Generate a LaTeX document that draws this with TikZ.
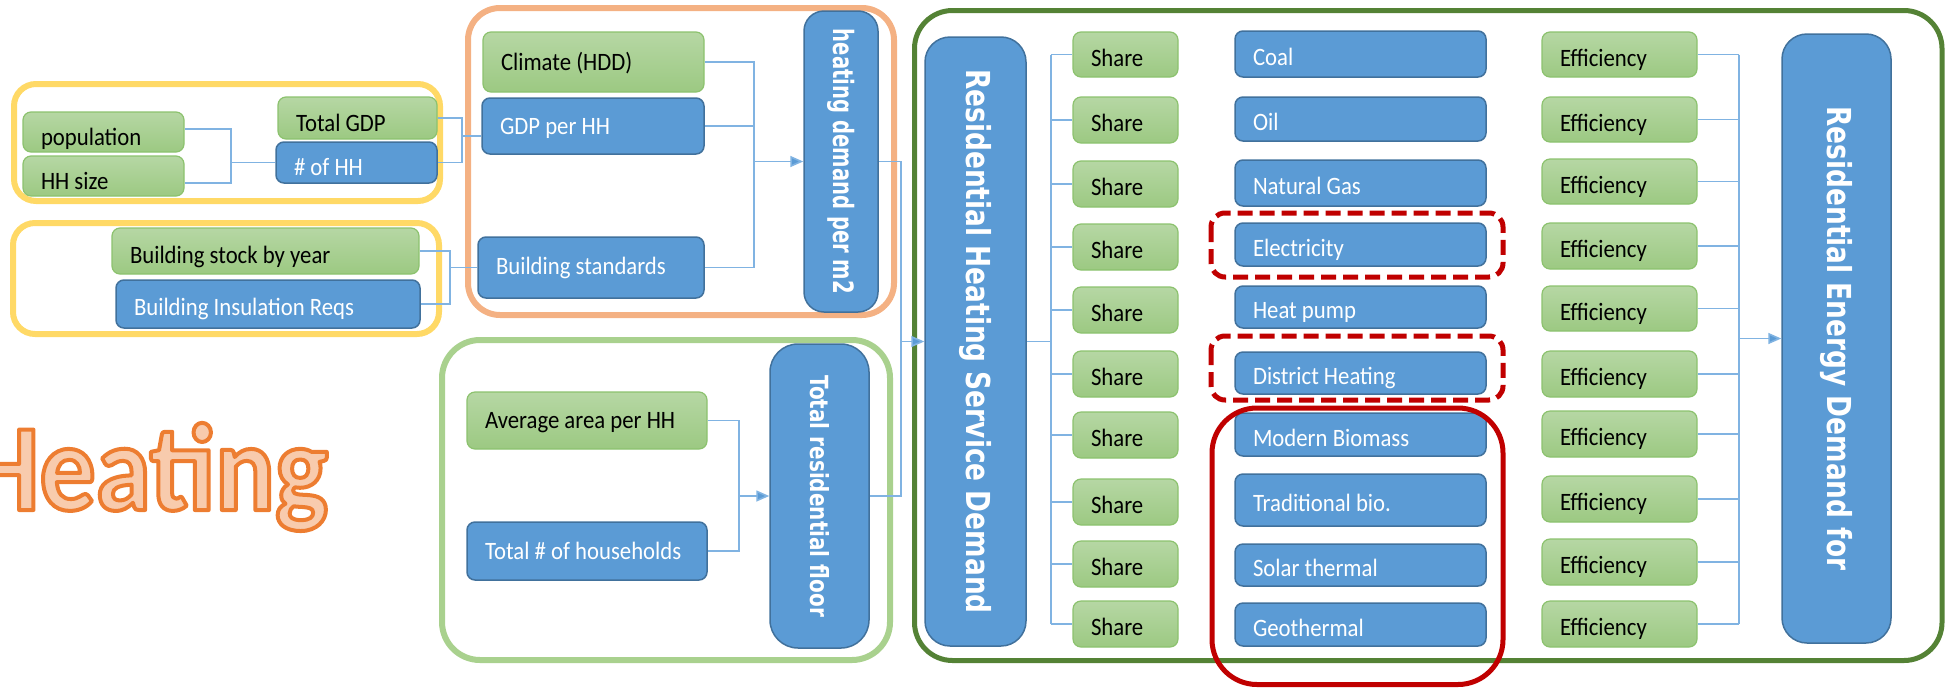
\documentclass[tikz,border=0pt]{standalone}
\usepackage{fontspec}
\setmainfont{Carlito}
\newfontfamily\boxfont[FakeStretch=0.91]{Carlito}
\newfontfamily\vfontA[FakeStretch=0.8]{DejaVu Sans Bold}
\newfontfamily\vfontB[FakeStretch=0.7]{DejaVu Sans Bold}
\newfontfamily\bigfont[FakeStretch=0.9]{Carlito Bold}
\usetikzlibrary{arrows.meta,calc}
\definecolor{gtop}{HTML}{B6D7A4}
\definecolor{gbot}{HTML}{9CC982}
\definecolor{gborder}{HTML}{8CC26E}
\definecolor{bfill}{HTML}{5B9BD5}
\definecolor{bborder}{HTML}{41719C}
\definecolor{lineblue}{HTML}{80B3E2}
\definecolor{arrblue}{HTML}{5B9BD5}
\definecolor{yel}{HTML}{FFD966}
\definecolor{org}{HTML}{F4B183}
\definecolor{lgr}{HTML}{A9D18E}
\definecolor{dgr}{HTML}{548235}
\definecolor{dred}{HTML}{C00000}
\definecolor{horange}{HTML}{ED7D31}
\definecolor{hfill}{HTML}{F8CBAD}
\newcommand\lt[2]{\makebox[#1pt][l]{#2}}
\newcommand\outlined[1]{\special{pdf:literal direct 2 Tr 4 w 1 j 0.929 0.490 0.192 RG}#1\special{pdf:literal direct 0 Tr}}
\begin{document}
\begin{tikzpicture}[x=1pt,y=-1pt,
  gb/.style={draw=gborder, line width=1.2pt, rounded corners=8pt, top color=gtop, bottom color=gbot,
    font=\boxfont\fontsize{25}{30}\selectfont, text=black, inner xsep=18pt, inner ysep=0pt, text depth=0pt},
  bb/.style={draw=bborder, line width=1.5pt, rounded corners=8pt, fill=bfill,
    font=\boxfont\fontsize{25}{30}\selectfont, text=white, inner xsep=18pt, inner ysep=0pt, text depth=0pt},
  bvert/.style={draw=bborder, line width=1.5pt, rounded corners=25pt, fill=bfill, text=white, inner sep=0pt},
  conn/.style={draw=lineblue, line width=1.6pt},
  arr/.style={conn, -{Triangle[length=13pt,width=11pt,fill=arrblue]}},
  frame/.style={line width=6pt},
  redframe/.style={draw=dred, line width=5pt},
  htitle/.style={anchor=base west, inner sep=0pt, font=\bigfont\fontsize{124}{130}\selectfont}
]
\useasboundingbox (0,0) rectangle (1945,691);

% group frames
\draw[frame, yel, rounded corners=22pt] (14,84) rectangle (440,201);
\draw[frame, yel, rounded corners=22pt] (13,223) rectangle (439,334);
\draw[frame, org, rounded corners=32pt] (468,8) rectangle (894,315);
\draw[frame, lgr, rounded corners=38pt] (442,340) rectangle (890,660);
\draw[line width=5pt, dgr, rounded corners=38pt] (914.5,10.5) rectangle (1942,660.5);

% title
\node[htitle, text=hfill] (title) at (-31,510) {\outlined{Heating}};

% left group
\node[gb, minimum height=40pt, text height=26pt] (pop) at (103.5,132) {\lt{125}{population}};
\node[gb, minimum height=40pt, text height=26pt] (hhs) at (103.5,176) {\lt{125}{HH size}};
\node[gb, minimum height=42pt, text height=26pt] (tgdp) at (357.5,118) {\lt{123}{Total GDP}};
\node[bb, minimum height=41pt, text height=26pt] (noh) at (356.5,162.5) {\lt{125}{\# of HH}};
\node[gb, minimum height=46pt, text height=24pt] (bstock) at (265.5,251) {\lt{271}{Building stock by year}};
\node[bb, minimum height=48pt, text height=22pt] (bins) at (268,304) {\lt{268}{Building Insulation Reqs}};

% orange group
\node[gb, minimum height=60pt, text height=16pt] (clim) at (593.5,62) {\lt{185}{Climate (HDD)}};
\node[bb, minimum height=56pt, text height=16pt] (gph) at (593,126) {\lt{186}{GDP per HH}};
\node[bb, minimum height=61pt, text height=14pt] (bstd) at (591,267.5) {\lt{190}{Building standards}};
\node[bvert, minimum width=74pt, minimum height=301pt, rounded corners=20pt] (hd) at (841,161.5)
  {\rotatebox{-90}{\vfontB\fontsize{28}{30}\selectfont heating demand per m2}};

% light green group
\node[gb, minimum height=57pt, text height=16pt] (avg) at (587,420.5) {\lt{204}{Average area per HH}};
\node[bb, minimum height=58pt, text height=16pt] (tnh) at (587,551) {\lt{204}{Total \# of households}};
\node[bvert, minimum width=99pt, minimum height=304pt, rounded corners=28pt] (trf) at (819.5,496)
  {\rotatebox{-90}{\vfontA\fontsize{25}{30}\selectfont Total residential floor}};

% main group
\node[bvert, minimum width=101pt, minimum height=609pt] (rhsd) at (975.5,341.5)
  {\rotatebox{-90}{\vfontA\fontsize{33}{36}\selectfont Residential Heating Service Demand}};
\node[bvert, minimum width=109pt, minimum height=609pt] (redf) at (1836.5,338.5)
  {\rotatebox{-90}{\vfontA\fontsize{33}{36}\selectfont Residential Energy Demand for}};

\foreach \i/\y/\h in {1/54.5/45,2/120/46,3/184/46,4/247/46,5/310/46,6/374/46,7/435/46,8/502/46,9/564/46,10/624/46}
  \node[gb, minimum height=\h pt, text height=23pt] (s\i) at (1125.5,\y) {\lt{69}{Share}};

\foreach \i/\y/\h/\t in {1/54/46/Coal,2/119/44/Oil,3/183/46/Natural Gas,4/244.5/43/Electricity,5/307/42/Heat pump,6/373/42/District Heating,7/434.5/43/Modern Biomass,8/500/52/Traditional bio.,9/565/42/Solar thermal,10/624.5/43/Geothermal}
  \node[bb, minimum height=\h pt, text height=23pt] (f\i) at (1360.5,\y) {\lt{215}{\t}};

\foreach \i/\y/\h in {1/54.5/45,2/119.5/45,3/181.5/45,4/246/46,5/308.5/45,6/374/46,7/434/46,8/499/46,9/562/46,10/624/46}
  \node[gb, minimum height=\h pt, text height=23pt] (e\i) at (1619.5,\y) {\lt{119}{Efficiency}};

% highlight frames
\draw[redframe, dash pattern=on 15pt off 7pt, rounded corners=14pt] (1211,213) rectangle (1503,277);
\draw[redframe, dash pattern=on 15pt off 7pt, rounded corners=14pt] (1211,336) rectangle (1503,400);
\draw[redframe, rounded corners=45pt] (1212,408) rectangle (1503,684.5);

% connectors: left group
\coordinate (j1) at (231,0);
\coordinate (pa) at ([yshift=3pt]pop.east);
\coordinate (ha) at ([yshift=-7pt]hhs.east);
\draw[conn] (pa) -- (pa -| j1) -- (ha -| j1) -- (ha);
\draw[conn] (j1 |- noh.west) -- (noh.west);
\coordinate (j2) at (462,136);
\draw[conn] (tgdp.east) -- (tgdp.east -| j2) -- (noh.east -| j2) -- (noh.east);
\draw[conn] (j2) -- (j2 -| gph.west);
\coordinate (j3) at (450,0);
\draw[conn] (bstock.east) -| (j3 |- bins.east) -- (bins.east);
\draw[conn] (j3 |- bstd.west) -- (bstd.west);

% orange group
\coordinate (j4) at (754,0);
\draw[conn] (clim.east) -| (j4 |- bstd.east) -- (bstd.east);
\draw[conn] (gph.east) -- (j4 |- gph.east);
\draw[arr] (j4 |- hd.west) -- (hd.west);

% green group
\coordinate (j5) at (739,0);
\draw[conn] (avg.east) -| (j5 |- tnh.east) -- (tnh.east);
\draw[arr] (j5 |- trf.west) -- (trf.west);

% into main
\coordinate (j6) at (901,0);
\draw[conn] (hd.east) -| (j6 |- trf.east) -- (trf.east);
\draw[arr] (j6 |- rhsd.west) -- (rhsd.west);

\coordinate (j7) at (1051,0);
\draw[conn] (j7 |- s1.west) -- (j7 |- s10.west);
\draw[conn] (rhsd.east) -- (j7 |- rhsd.east);
\foreach \i in {1,...,10} \draw[conn] (j7 |- s\i.west) -- (s\i.west);

\coordinate (j8) at (1739,0);
\draw[conn] (j8 |- e1.east) -- (j8 |- e10.east);
\foreach \i in {1,...,10} \draw[conn] (e\i.east) -- (j8 |- e\i.east);
\draw[arr] (j8 |- redf.west) -- (redf.west);
\end{tikzpicture}
\end{document}
